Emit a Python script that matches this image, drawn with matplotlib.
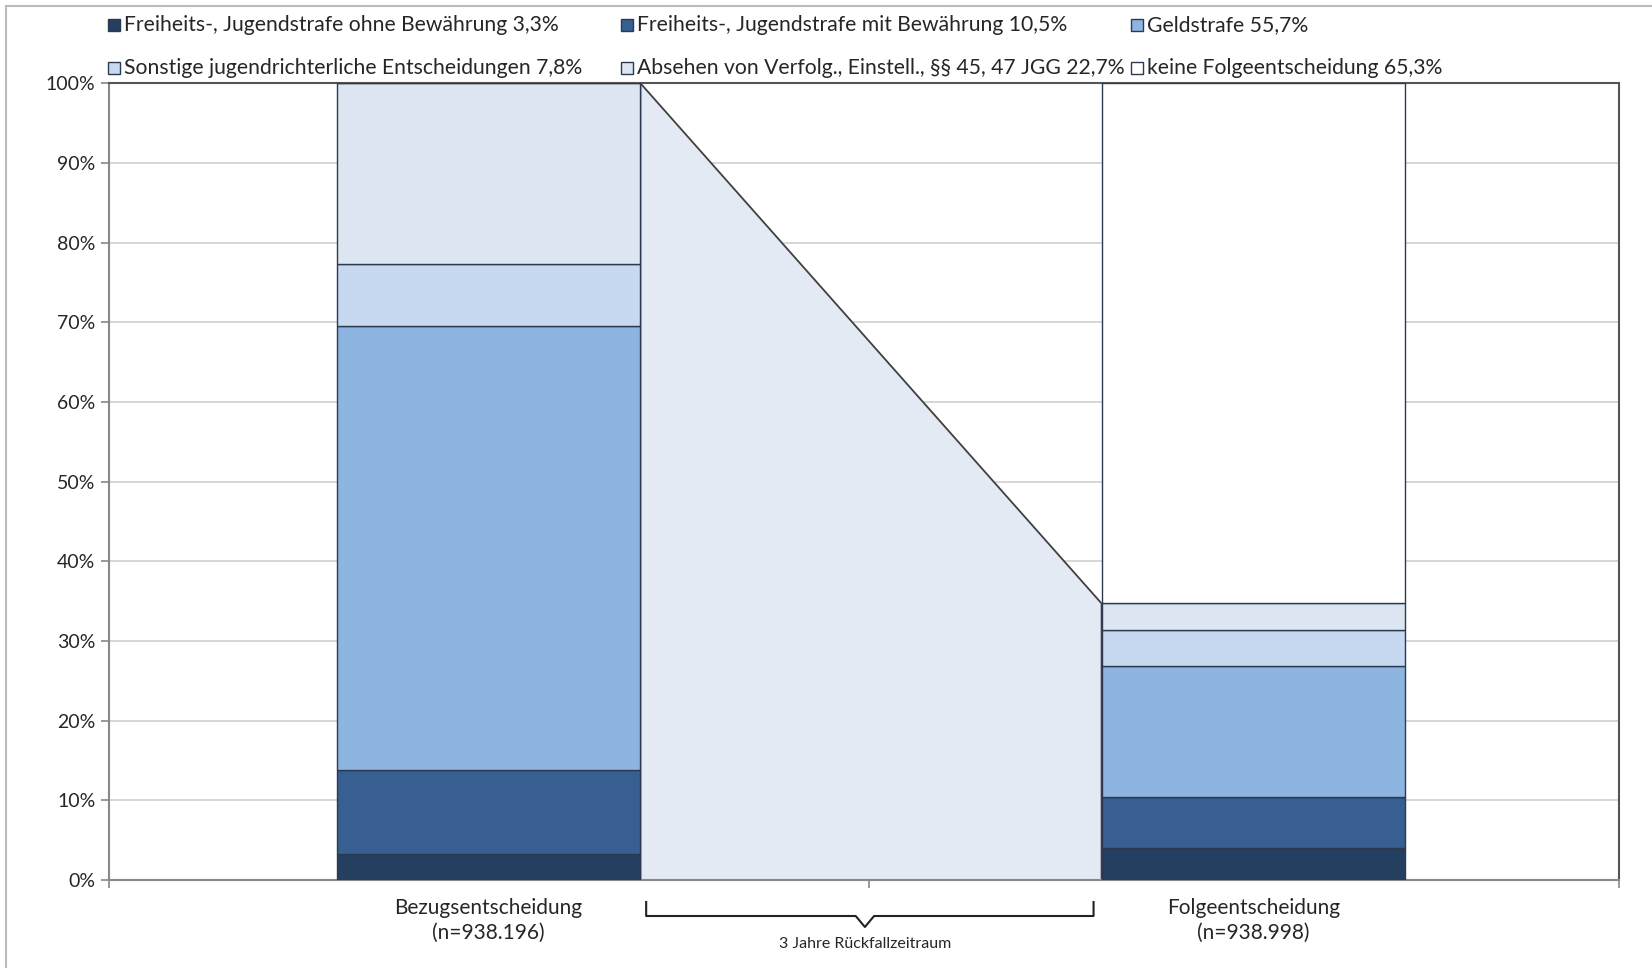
import numpy as np
import matplotlib.pyplot as plt
from matplotlib.patches import Polygon, Rectangle
from matplotlib.lines import Line2D
import matplotlib.transforms as mtransforms

plt.rcParams['font.family'] = ['Lato', 'DejaVu Sans']

# =======================================================
# DATA

categories = ['Bezugsentscheidung\n(n=938.196)', 'Folgeentscheidung\n(n=938.998)']
series = ['Freiheits-, Jugendstrafe ohne Bewährung 3,3%',
          'Freiheits-, Jugendstrafe mit Bewährung 10,5%',
          'Geldstrafe 55,7%',
          'Sonstige jugendrichterliche Entscheidungen 7,8%',
          'Absehen von Verfolg., Einstell., §§ 45, 47 JGG 22,7%',
          'keine Folgeentscheidung 65,3%']
bezug = [3.3, 10.5, 55.7, 7.8, 22.7, 0.0]
folge = [4.0, 6.4, 16.5, 4.5, 3.3, 65.3]
colors = ['#243f60', '#375f91', '#8eb4e2', '#c6d9f1', '#dce6f2', '#ffffff']
period_label = '3 Jahre Rückfallzeitraum'

# =======================================================
# PLOT

W, H = 1652, 968
fig = plt.figure(figsize=(W / 100, H / 100), dpi=100)
ax = fig.add_axes([0.0657, 0.091, 0.9143, 0.823])

x = np.arange(len(categories))
w = 0.397
vals = np.array([bezug, folge])
bottom = np.zeros(len(categories))
for i, name in enumerate(series):
    ax.bar(x, vals[:, i], w, bottom=bottom, color=colors[i],
           edgecolor='#2b3a4e', linewidth=1.0, zorder=3, label=name)
    bottom += vals[:, i]

# connecting area between the bars
top_folge = sum(folge[:5])
poly = Polygon([(w / 2, 100), (1 - w / 2, top_folge), (1 - w / 2, 0), (w / 2, 0)],
               closed=True, facecolor='#e3eaf3', edgecolor='#404040',
               linewidth=1.3, zorder=2)
ax.add_patch(poly)

x0, x1 = -0.497, 1.478
ax.set_xlim(x0, x1)
ax.set_ylim(0, 100)
ax.set_yticks(np.arange(0, 101, 10))
ax.set_yticklabels([f'{v}%' for v in range(0, 101, 10)], fontsize=14, color='#262626')
ax.yaxis.grid(True, color='#d0d0d0', linewidth=1.2, zorder=0)
ax.set_axisbelow(True)

ax.set_xticks(x)
ax.set_xticklabels(categories, fontsize=15, color='#262626', linespacing=1.3)
ax.tick_params(axis='x', which='major', length=0, pad=13)
ax.set_xticks([x0, 0.497, x1], minor=True)
ax.tick_params(axis='x', which='minor', length=6, color='#888888', width=1.2)
ax.tick_params(axis='y', length=6, color='#888888', width=1.2)

for s in ['top', 'right']:
    ax.spines[s].set_color('#555555')
    ax.spines[s].set_linewidth(1.5)
for s in ['left', 'bottom']:
    ax.spines[s].set_color('#888888')
    ax.spines[s].set_linewidth(1.5)

# bracket under the connecting area
trans = mtransforms.blended_transform_factory(ax.transData, fig.transFigure)
bx0, bx1, bxm = 0.206, 0.791, 0.492
y_top = 1 - 902 / H
y_mid = 1 - 916 / H
y_tip = 1 - 927 / H
ax.add_line(Line2D([bx0, bx0, bxm - 0.012, bxm, bxm + 0.012, bx1, bx1],
                   [y_top, y_mid, y_mid, y_tip, y_mid, y_mid, y_top],
                   transform=trans, color='#222222', linewidth=1.5, clip_on=False))
ax.text(bxm, 1 - 944 / H, period_label, transform=trans, ha='center', va='center',
        fontsize=11.5, color='#262626')

# legend, Excel style: fixed column width, row-major
col_x = [108, 621, 1131]
row_y = [25, 68]
sq = 12
for i, name in enumerate(series):
    cx = col_x[i % 3]
    cy = row_y[i // 3]
    fig.patches.append(Rectangle((cx / W, 1 - (cy + sq / 2) / H), sq / W, sq / H,
                                 transform=fig.transFigure, facecolor=colors[i],
                                 edgecolor='#2b3a4e', linewidth=1.0))
    fig.text((cx + sq + 4) / W, 1 - cy / H, name, ha='left', va='center',
             fontsize=15.2, color='#262626')

# outer frame
fig.patches.append(Rectangle((6 / W, -0.1), 1.2, 1 - 6 / H + 0.1, transform=fig.transFigure,
                             fill=False, edgecolor='#bbbbbb', linewidth=1.5))

plt.savefig('out.png', dpi=100)
plt.close()
